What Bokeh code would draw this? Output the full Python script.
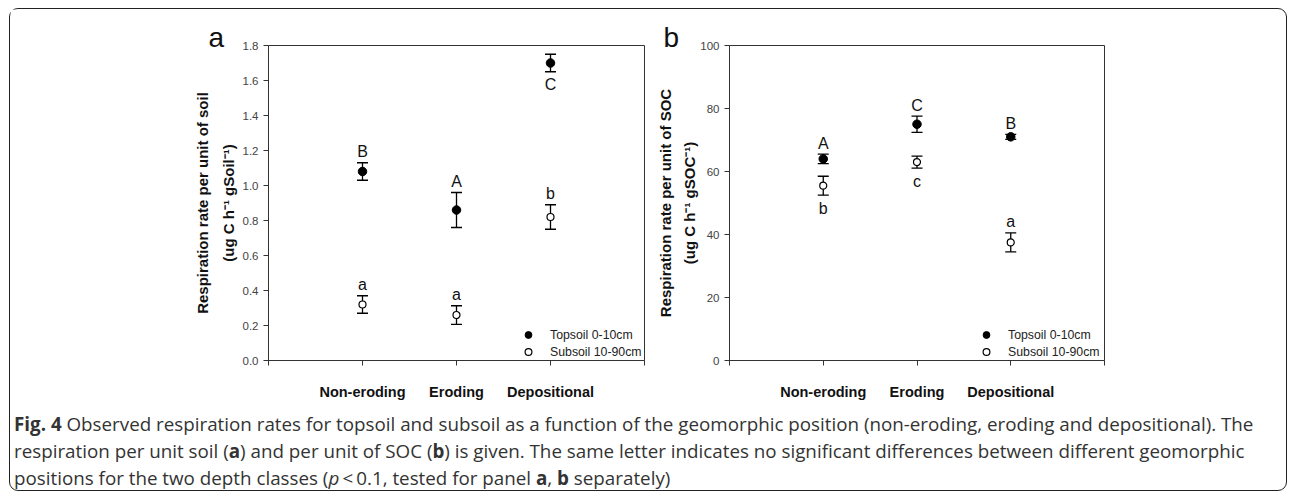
from bokeh.plotting import figure
from bokeh.models import (ColumnDataSource, Whisker, TeeHead, FixedTicker, Title,
                          Legend, LegendItem, Div, Range1d, PrintfTickFormatter)
from bokeh.layouts import row, column
from bokeh.embed import file_html
from bokeh.resources import INLINE
from bokeh.core.properties import value

# ---------------- data ----------------
categories = ["Non-eroding", "Eroding", "Depositional"]
series_names = ["Topsoil 0-10cm", "Subsoil 10-90cm"]

# panel a: respiration per unit soil
soil_top_mean = [1.08, 0.86, 1.70]
soil_top_err = [0.05, 0.10, 0.05]
soil_sub_mean = [0.32, 0.26, 0.82]
soil_sub_err = [0.05, 0.053, 0.07]
soil_top_letters = ["B", "A", "C"]
soil_top_sides = ["above", "above", "below"]
soil_sub_letters = ["a", "a", "b"]
soil_sub_sides = ["above", "above", "above"]
soil_yticks = [0.0, 0.2, 0.4, 0.6, 0.8, 1.0, 1.2, 1.4, 1.6, 1.8]

# panel b: respiration per unit SOC
soc_top_mean = [64.0, 75.0, 71.0]
soc_top_err = [1.5, 2.6, 0.8]
soc_sub_mean = [55.5, 63.0, 37.5]
soc_sub_err = [3.0, 1.9, 3.0]
soc_top_letters = ["A", "C", "B"]
soc_top_sides = ["above", "above", "above"]
soc_sub_letters = ["b", "c", "a"]
soc_sub_sides = ["below", "below", "above"]
soc_yticks = [0, 20, 40, 60, 80, 100]

caption_line1 = ("Observed respiration rates for topsoil and subsoil as a function of the geomorphic "
                 "position (non-eroding, eroding and depositional). The")
caption_line2a = "respiration per unit soil ("
caption_line2b = ") and per unit of SOC ("
caption_line2c = (") is given. The same letter indicates no significant differences between "
                  "different geomorphic")

FONT = "Liberation Sans"
AX = "#333333"


def make_panel(width, border_left, ticks, fmt, title1, title2, title2_gap, panel_letter,
               letter_off, legend_x, top_mean, top_err, sub_mean, sub_err,
               top_letters, top_sides, sub_letters, sub_sides):
    ymin, ymax = ticks[0], ticks[-1]
    p = figure(width=width, height=396, x_range=Range1d(0, 4), y_range=Range1d(ymin, ymax),
               output_backend="svg", toolbar_location=None,
               min_border_left=border_left, min_border_right=6,
               min_border_top=36, min_border_bottom=45)
    p.xgrid.visible = False
    p.ygrid.visible = False
    p.outline_line_color = AX
    p.outline_line_width = 1

    xs = [i + 1 for i in range(len(categories))]
    overrides = {0: "", len(categories) + 1: ""}
    for i, c in enumerate(categories):
        overrides[i + 1] = c
    p.xaxis.ticker = FixedTicker(ticks=list(range(len(categories) + 2)))
    p.xaxis.major_label_overrides = overrides
    p.xaxis.major_label_text_font = FONT
    p.xaxis.major_label_text_font_style = "bold"
    p.xaxis.major_label_text_font_size = "14.5px"
    p.xaxis.major_label_text_color = "#111111"
    p.xaxis.major_label_standoff = 18

    p.yaxis.ticker = FixedTicker(ticks=ticks)
    p.yaxis.formatter = PrintfTickFormatter(format=fmt)
    p.yaxis.major_label_text_font = FONT
    p.yaxis.major_label_text_font_size = "11.5px"
    p.yaxis.major_label_text_color = "#444444"
    p.yaxis.major_label_standoff = 5

    for ax in (p.xaxis, p.yaxis):
        ax.axis_line_color = AX
        ax.major_tick_line_color = AX
        ax.major_tick_out = 5
        ax.major_tick_in = 0
        ax.minor_tick_line_color = None

    renderers = []
    for mean, err, letters, sides, filled in (
            (top_mean, top_err, top_letters, top_sides, True),
            (sub_mean, sub_err, sub_letters, sub_sides, False)):
        src = ColumnDataSource(dict(
            x=xs, y=mean,
            upper=[m + e for m, e in zip(mean, err)],
            lower=[m - e for m, e in zip(mean, err)]))
        w = Whisker(base="x", upper="upper", lower="lower", source=src,
                    line_color="black", line_width=1.3,
                    upper_head=TeeHead(size=11, line_color="black", line_width=1.3),
                    lower_head=TeeHead(size=11, line_color="black", line_width=1.3))
        p.add_layout(w)
        if filled:
            r = p.scatter("x", "y", source=src, size=8.5, marker="circle",
                          fill_color="black", line_color="black")
        else:
            r = p.scatter("x", "y", source=src, size=7, marker="circle",
                          fill_color="white", line_color="black", line_width=1.2)
        renderers.append(r)
        # significance letters
        ly, loff = [], []
        for m, e, s in zip(mean, err, sides):
            if s == "above":
                ly.append(m + e)
                loff.append(-11)
            else:
                ly.append(m - e)
                loff.append(13)
        lsrc = ColumnDataSource(dict(x=xs, y=ly, t=letters, off=loff))
        p.text("x", "y", text="t", y_offset="off", source=lsrc,
               text_font=value(FONT), text_font_size="16px", text_color="#111111",
               text_align="center", text_baseline="middle")

    legend = Legend(items=[LegendItem(label=series_names[0], renderers=[renderers[0]]),
                           LegendItem(label=series_names[1], renderers=[renderers[1]])],
                    location=(legend_x, 0), padding=0, margin=0, spacing=0,
                    glyph_width=20, glyph_height=17, label_height=17, label_standoff=12,
                    label_text_font=FONT, label_text_font_size="12.3px",
                    label_text_color="#222222",
                    border_line_alpha=0, background_fill_alpha=0)
    p.add_layout(legend)

    # y-axis titles (two lines), inner line first
    p.add_layout(Title(text=title2, align="center", text_font=FONT, text_font_style="bold",
                       text_font_size="15px", text_color="#111111", standoff=title2_gap), "left")
    p.add_layout(Title(text=title1, align="center", text_font=FONT, text_font_style="bold",
                       text_font_size="15px", text_color="#111111", standoff=9), "left")
    # panel letter
    p.add_layout(Title(text=panel_letter, align="left", offset=letter_off, standoff=-14,
                       text_font=FONT, text_font_style="normal", text_font_size="28px",
                       text_color="#111111"), "above")
    return p


pa = make_panel(640, 258, soil_yticks, "%.1f",
                "Respiration rate per unit of soil", "(ug C h\u207b\u00b9 gSoil\u207b\u00b9)", 5,
                "a", -60, 250,
                soil_top_mean, soil_top_err, soil_sub_mean, soil_sub_err,
                soil_top_letters, soil_top_sides, soil_sub_letters, soil_sub_sides)
pb = make_panel(460, 78, soc_yticks, "%d",
                "Respiration rate per unit of SOC", "(ug C h\u207b\u00b9 gSOC\u207b\u00b9)", 0,
                "b", -66, 247,
                soc_top_mean, soc_top_err, soc_sub_mean, soc_sub_err,
                soc_top_letters, soc_top_sides, soc_sub_letters, soc_sub_sides)

cap_html = (
    '<div style="font-family:\'Open Sans\';font-size:18.8px;line-height:27px;color:#333;'
    'white-space:nowrap;padding:6px 0 0 4px;">'
    '<b>Fig. 4</b> ' + caption_line1 + '<br>'
    + caption_line2a + '<b>a</b>' + caption_line2b + '<b>b</b>' + caption_line2c + '<br>'
    'positions for the two depth classes (<i>p</i>&thinsp;&lt;&thinsp;0.1, tested for panel '
    '<b>a</b>, <b>b</b> separately)</div>')
cap = Div(text=cap_html, width=1276, height=85, margin=0)

layout = column(row(pa, pb), cap, margin=(8, 0, 0, 9),
                styles={"border": "1.5px solid #222", "border-radius": "9px"})

open("out.html", "w").write(file_html(layout, INLINE))
